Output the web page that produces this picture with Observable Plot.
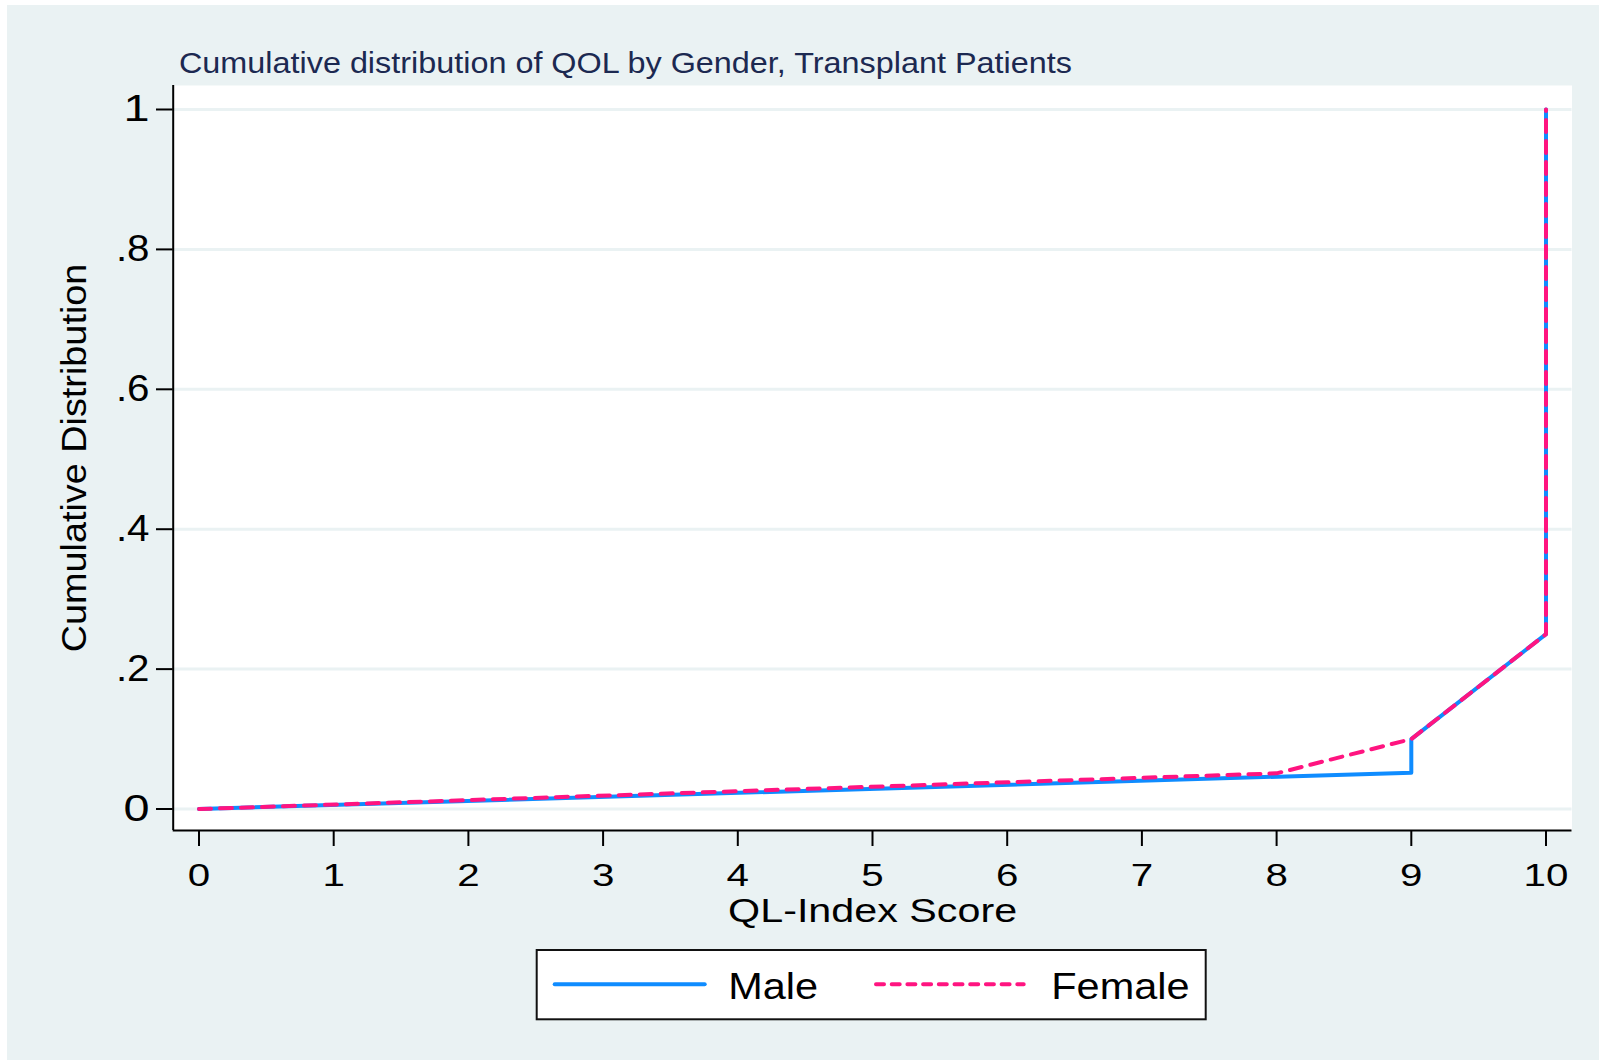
<!DOCTYPE html>
<html>
<head>
<meta charset="utf-8">
<script src="https://cdn.jsdelivr.net/npm/d3@7"></script>
<script src="https://cdn.jsdelivr.net/npm/@observablehq/plot@0.6"></script>
<style>
  body { margin: 0; background: #ffffff; }
  #page { position: relative; width: 1607px; height: 1064px; overflow: hidden; font-family: "Liberation Sans", Arial, sans-serif; }
  #bg { position: absolute; left: 7px; top: 5px; width: 1592px; height: 1055px; background: #eaf2f3; }
  #title { position: absolute; left: 0; top: 0; }
  #chart { position: absolute; left: 0; top: 80px; }
  #legend { position: absolute; left: 0; top: 940px; }
  svg text { font-family: "Liberation Sans", Arial, sans-serif; }
</style>
</head>
<body>
<div id="page">
  <div id="bg"></div>
  <svg id="title" width="1607" height="80"></svg>
  <div id="chart"></div>
  <svg id="legend" width="1607" height="124"></svg>
</div>
<script>
// ---- data ----
const titleText = "Cumulative distribution of QOL by Gender, Transplant Patients";
const xLabel = "QL-Index Score";
const yLabel = "Cumulative Distribution";
const seriesNames = ["Male", "Female"];
const seriesColors = ["#0f8cff", "#ff1480"];
const xTicks = [0, 1, 2, 3, 4, 5, 6, 7, 8, 9, 10];
const yTicks = [0, 0.2, 0.4, 0.6, 0.8, 1];
const yTickLabels = ["0", ".2", ".4", ".6", ".8", "1"];
const maleScore = [0, 9, 9, 10, 10];
const maleCum = [0, 0.052, 0.10, 0.25, 1];
const femaleScore = [0, 8, 9, 10, 10];
const femaleCum = [0, 0.051, 0.10, 0.25, 1];

const male = maleScore.map((s, i) => ({score: s, cum: maleCum[i]}));
const female = femaleScore.map((s, i) => ({score: s, cum: femaleCum[i]}));

// ---- layout ----
const W = 1607, H = 860;
const mL = 172.7, mR = 35.5, mT = 5, mB = 110;
const xDom = [-0.1915, 10.193];
const yDom = [-0.0307, 1.0343];

const plot = Plot.plot({
  width: W, height: H,
  marginLeft: mL, marginRight: mR, marginTop: mT, marginBottom: mB,
  style: {background: "transparent", fontFamily: "Liberation Sans, Arial, sans-serif", color: "#000", overflow: "visible"},
  x: {domain: xDom, axis: null},
  y: {domain: yDom, axis: null},
  marks: [
    Plot.frame({fill: "#ffffff", stroke: "none"}),
    Plot.ruleY(yTicks, {stroke: "#eaf2f3", strokeWidth: 3}),
    Plot.line(male, {x: "score", y: "cum", stroke: seriesColors[0], strokeWidth: 4, strokeLinejoin: "round"}),
    Plot.line(female, {x: "score", y: "cum", stroke: seriesColors[1], strokeWidth: 4, strokeDasharray: "12,9", strokeLinecap: "round", strokeLinejoin: "round"}),
    Plot.ruleX([xDom[0]], {stroke: "#000", strokeWidth: 2}),
    Plot.ruleY([yDom[0]], {stroke: "#000", strokeWidth: 2}),
    Plot.axisX({ticks: xTicks, tickSize: 16, tickPadding: 17, fontSize: 31, label: null, tickFormat: d => String(d), strokeWidth: 2}),
    Plot.axisY({ticks: yTicks, tickSize: 16.7, tickPadding: 7, fontSize: 36, label: null, tickFormat: d => yTickLabels[yTicks.indexOf(d)], strokeWidth: 2}),
    Plot.text([xLabel], {frameAnchor: "bottom", dy: 81.3, fontSize: 32.5, lineAnchor: "middle", textAnchor: "middle", fill: "#000"}),
    Plot.text([yLabel], {frameAnchor: "left", rotate: -90, dx: -98.7, fontSize: 35, lineAnchor: "middle", textAnchor: "middle", fill: "#000"})
  ]
});
document.getElementById("chart").appendChild(plot);

function stretch(nodes, k) {
  nodes.forEach(t => {
    let L = 0;
    try { L = t.getComputedTextLength(); } catch (e) {}
    if (!(L > 0)) { try { L = t.getBBox().width; } catch (e) {} }
    if (L > 0) {
      t.setAttribute("textLength", (L * k).toFixed(2));
      t.setAttribute("lengthAdjust", "spacingAndGlyphs");
    }
  });
}
const allTexts = Array.from(plot.querySelectorAll("text"));
const xTickTexts = allTexts.filter(t => xTicks.map(String).includes(t.textContent));
const yTickTexts = allTexts.filter(t => yTickLabels.includes(t.textContent) && !xTickTexts.includes(t));
stretch(xTickTexts, 1.3);
stretch(yTickTexts, 1.12);
stretch(allTexts.filter(t => t.textContent === xLabel), 1.27);
stretch(allTexts.filter(t => t.textContent === yLabel), 1.08);

// ---- title ----
const tsvg = d3.select("#title");
const tt = tsvg.append("text")
  .attr("x", 179).attr("y", 73.3)
  .attr("font-size", 29).attr("fill", "#1c2951")
  .text(titleText);
stretch([tt.node()], 1.116);

// ---- legend ----
const lsvg = d3.select("#legend");
lsvg.append("rect").attr("x", 536.7).attr("y", 10).attr("width", 669).attr("height", 69.3)
  .attr("fill", "#fff").attr("stroke", "#111").attr("stroke-width", 2);
lsvg.append("line").attr("x1", 554.7).attr("x2", 704.7).attr("y1", 44.3).attr("y2", 44.3)
  .attr("stroke", seriesColors[0]).attr("stroke-width", 4).attr("stroke-linecap", "round");
lsvg.append("line").attr("x1", 876).attr("x2", 1023.7).attr("y1", 44.3).attr("y2", 44.3)
  .attr("stroke", seriesColors[1]).attr("stroke-width", 4).attr("stroke-linecap", "round")
  .attr("stroke-dasharray", "8,7.7");
const l1 = lsvg.append("text").attr("x", 728.3).attr("y", 59.3).attr("font-size", 37).attr("fill", "#000").text(seriesNames[0]);
const l2 = lsvg.append("text").attr("x", 1051.3).attr("y", 59.3).attr("font-size", 37).attr("fill", "#000").text(seriesNames[1]);
stretch([l1.node(), l2.node()], 1.12);
</script>
</body>
</html>
